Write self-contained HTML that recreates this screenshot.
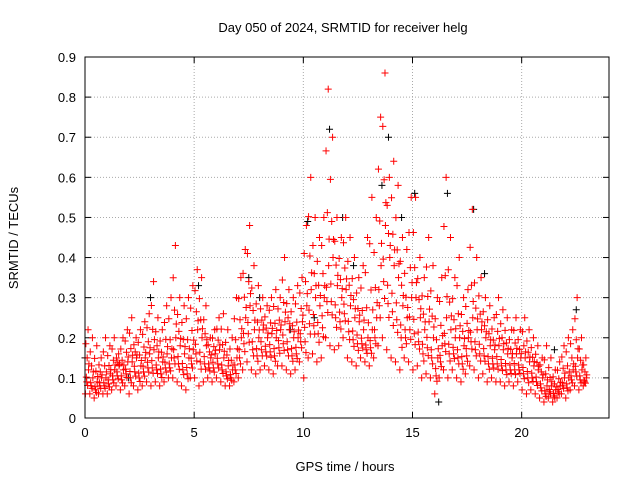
<!DOCTYPE html>
<html><head><meta charset="utf-8"><style>
body{margin:0;background:#fff;font-family:"Liberation Sans",sans-serif}
svg text{font-family:"Liberation Sans",sans-serif;font-size:13px;fill:#000}
</style></head><body>
<svg id="chart" width="640" height="480">
<rect width="640" height="480" fill="#fff"/>
<text x="343" y="32" text-anchor="middle">Day 050 of 2024, SRMTID for receiver helg</text>
<text x="18" y="238" text-anchor="middle" transform="rotate(-90 18 238)">SRMTID / TECUs</text>
<text x="345" y="471" text-anchor="middle">GPS time / hours</text>
<g id="grid"></g><g id="marks"></g>
<rect x="85" y="57" width="524" height="361" fill="none" stroke="#000"/>
</svg>
<script>
const xTicks=[0,5,10,15,20];
const yTicks=[0,0.1,0.2,0.3,0.4,0.5,0.6,0.7,0.8,0.9];
const yTickLabels=["0","0.1","0.2","0.3","0.4","0.5","0.6","0.7","0.8","0.9"];
const step=0.2;
const hiVals=[.22,.2,.18,.15,.2,.18,.2,.16,.2,.22,.25,.2,.22,.24,.26,.34,.25,.22,.28,.3,.43,.3,.28,.3,.33,.37,.35,.28,.2,.22,.25,.26,.22,.2,.3,.35,.42,.48,.38,.33,.3,.28,.3,.32,.3,.4,.32,.3,.33,.35,.48,.6,.5,.45,.5,.82,.7,.5,.45,.5,.45,.4,.35,.38,.45,.55,.5,.75,.86,.6,.64,.58,.45,.42,.55,.55,.4,.35,.45,.38,.3,.35,.6,.45,.35,.4,.3,.32,.52,.4,.35,.3,.28,.25,.3,.27,.25,.22,.25,.22,.25,.22,.2,.18,.15,.18,.15,.12,.14,.18,.2,.22,.3,.2,.15];
const midVals=[.12,.1,.09,.1,.1,.11,.12,.13,.12,.14,.14,.15,.13,.15,.16,.17,.15,.14,.16,.15,.2,.18,.16,.15,.17,.22,.2,.18,.15,.16,.17,.15,.13,.12,.15,.2,.25,.28,.22,.2,.22,.2,.21,.2,.22,.24,.22,.2,.2,.24,.28,.32,.3,.28,.3,.38,.4,.33,.3,.32,.28,.25,.24,.22,.2,.22,.25,.38,.48,.4,.38,.35,.28,.25,.3,.3,.25,.22,.24,.2,.15,.18,.25,.22,.2,.2,.18,.2,.25,.22,.22,.2,.18,.17,.18,.17,.16,.15,.16,.15,.15,.14,.13,.12,.1,.08,.08,.07,.08,.1,.1,.12,.15,.12,.1];
const loVals=[.06,.06,.05,.06,.06,.06,.07,.08,.07,.08,.06,.08,.07,.08,.09,.08,.09,.08,.09,.1,.1,.09,.08,.07,.1,.1,.08,.09,.1,.09,.1,.09,.08,.08,.09,.1,.12,.14,.12,.11,.12,.13,.12,.11,.13,.13,.12,.11,.12,.14,.1,.15,.16,.14,.15,.2,.18,.17,.18,.2,.15,.14,.13,.15,.14,.13,.15,.18,.2,.17,.15,.14,.12,.15,.14,.12,.13,.1,.11,.1,.06,.1,.12,.1,.12,.1,.09,.11,.13,.12,.1,.11,.09,.1,.09,.09,.08,.09,.08,.09,.07,.06,.07,.06,.05,.04,.05,.04,.05,.06,.05,.07,.08,.07,.08];
const blackT=[0,3,5.2,7.5,10.2,11.2,11.8,13.6,13.9,14.5,15.1,16.6,17.8,18.3,22.5,21.5,16.2,10.5,8,2,12.3,9.4];
const blackV=[.15,.3,.33,.35,.49,.72,.5,.58,.7,.5,.56,.56,.52,.36,.27,.17,.04,.25,.3,.1,.38,.22];
const X=t=>85+t*(524/24), Y=v=>418-v*(361/0.9);
const NS="http://www.w3.org/2000/svg";
const grid=document.getElementById('grid'), marks=document.getElementById('marks');
function line(p,x1,y1,x2,y2,st,da){const l=document.createElementNS(NS,'line');l.setAttribute('x1',x1);l.setAttribute('y1',y1);l.setAttribute('x2',x2);l.setAttribute('y2',y2);l.setAttribute('stroke',st);if(da)l.setAttribute('stroke-dasharray',da);p.appendChild(l);return l;}
function text(x,y,s,anc){const e=document.createElementNS(NS,'text');e.setAttribute('x',x);e.setAttribute('y',y);e.setAttribute('text-anchor',anc);e.textContent=s;grid.appendChild(e);return e;}
xTicks.forEach(t=>{const x=X(t);
 const g=line(grid,x,57,x,418,'#aaa','1,2');
 
 
 line(grid,x,418,x,412,'#000');line(grid,x,57,x,63,'#000');
 const e=text(x,437,String(t),'middle');
 
 });
yTicks.forEach((v,i)=>{const y=Y(v);
 const g=line(grid,85,y,609,y,'#aaa','1,2');
 
 
 line(grid,85,y,91,y,'#000');line(grid,609,y,603,y,'#000');
 const e=text(76,y+5,yTickLabels[i],'end');
 
 });
function plus(t,v,c){const x=X(t),y=Y(v);
 const p=document.createElementNS(NS,'path');
 p.setAttribute('d',`M${x-3.5},${y}h7M${x},${y-3.5}v7`);
 p.setAttribute('stroke',c);p.setAttribute('stroke-width','1');
 
 
 marks.appendChild(p);}
blackT.forEach((t,i)=>plus(t,blackV[i],'#000'));
const fracs=[0,0.35,0.7,1,1.3,1.65,2];
const offs=[0.02,0.12,0.06,0.16,0.1,0.04,0.14];
midVals.forEach((m,i)=>{
 const lo=loVals[i],hi=hiVals[i],t0=i*step;
 fracs.forEach((f,k)=>{
  const v=f<=1?lo+(m-lo)*f:m+(hi-m)*(f-1)/1;
  plus(t0+offs[k],v,'#f00');
 });
 plus(t0+0.08,lo+(m-lo)*0.5,'#f00');
 plus(t0+0.18,m+(hi-m)*0.15,'#f00');
});
</script>
</body></html>
